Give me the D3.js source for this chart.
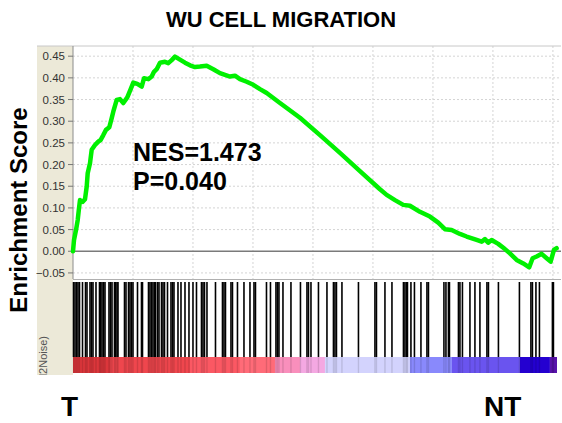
<!DOCTYPE html>
<html>
<head>
<meta charset="utf-8">
<script src="https://cdn.jsdelivr.net/npm/d3@7"></script>
<style>
  body { margin: 0; background: #fff; }
  svg text { font-family: "Liberation Sans", Arial, sans-serif; }
</style>
</head>
<body>
<div id="chart"></div>
<script>
/* ---- data ---- */
var listSize = 20170;

// running enrichment score : rank in the ordered list / score
var esRank = [0, 42, 125, 196, 250, 292, 404, 500, 571, 612, 708, 779, 917, 1054, 1154, 1263, 1375, 1513,
  1613, 1679, 1821, 1958, 2096, 2263, 2404, 2513, 2679, 2863, 2958, 3138, 3279, 3375, 3488, 3625, 3833,
  3971, 4113, 4250, 4458, 4667, 4875, 5083, 5292, 5571, 5846, 6125, 6333, 6542, 6750, 6958, 7238, 7513,
  7792, 8071, 8625, 9458, 10292, 11125, 11958, 12792, 13071, 13417, 13763, 14042, 14458, 14875, 15221,
  15500, 15779, 16125, 16404, 16821, 17029, 17167, 17304, 17446, 17721, 18000, 18208, 18488, 18763,
  19013, 19154, 19321, 19529, 19738, 19904, 20042, 20154];
var esValue = [0, 0.026, 0.049, 0.072, 0.099, 0.118, 0.114, 0.120, 0.149, 0.180, 0.203, 0.234, 0.245, 0.253,
  0.257, 0.268, 0.280, 0.286, 0.307, 0.322, 0.349, 0.351, 0.342, 0.355, 0.374, 0.389, 0.386, 0.380, 0.399,
  0.397, 0.403, 0.414, 0.420, 0.435, 0.437, 0.434, 0.441, 0.449, 0.442, 0.435, 0.429, 0.425, 0.426, 0.428,
  0.420, 0.411, 0.407, 0.403, 0.405, 0.397, 0.391, 0.384, 0.374, 0.365, 0.342, 0.308, 0.268, 0.227, 0.185,
  0.143, 0.130, 0.118, 0.107, 0.105, 0.091, 0.080, 0.066, 0.051, 0.049, 0.040, 0.034, 0.026, 0.022, 0.028,
  0.020, 0.026, 0.017, 0.005, -0.005, -0.020, -0.028, -0.037, -0.016, -0.012, -0.006, -0.016, -0.024,
  0.003, 0.007];

// positions of the gene set members in the ranked list
var hits = [21, 83, 146, 208, 271, 396, 521, 583, 708, 771, 833, 958, 1104, 1146, 1208, 1271, 1333, 1500,
  1563, 1625, 1729, 1771, 1833, 1875, 2146, 2208, 2313, 2375, 2438, 2500, 2688, 2854, 2896, 3146, 3208,
  3271, 3333, 3396, 3438, 3521, 3583, 3688, 3750, 3813, 3938, 4083, 4146, 4208, 4375, 4500, 4667, 4833,
  5000, 5146, 5354, 5417, 5479, 5583, 5938, 6229, 6292, 6354, 6583, 6646, 6854, 7125, 7375, 7542, 7604,
  8063, 8229, 8458, 8521, 8583, 8750, 9083, 9479, 9750, 9813, 9917, 10229, 10583, 10854, 10917, 10979,
  11208, 11896, 12583, 12646, 13000, 13292, 13771, 13833, 13896, 13938, 14083, 14229, 14500, 14750,
  14813, 15458, 15542, 15646, 15688, 16063, 16125, 16229, 16542, 16750, 16958, 17250, 17313, 17729,
  18604, 19083, 19146, 19292, 19438, 19979, 20021];

// ranked list metric colour band (start rank of each block / colour)
var bandStart = [0, 1542, 4875, 6958, 8417, 9458, 10500, 14042, 15792, 18625, 19875];
var bandColor = ["#dc363b", "#ef464d", "#fb5863", "#ff6b78", "#f98fbc", "#f4a8e2", "#d3d3fd",
  "#8989fc", "#6a54ef", "#2400d0", "#5812aa"];

var yTicks = [-0.05, 0, 0.05, 0.10, 0.15, 0.20, 0.25, 0.30, 0.35, 0.40, 0.45];
var xGrid = [2500, 5000, 7500, 10000, 12500, 15000, 17500, 20000];

var title = "WU CELL MIGRATION";
var nesLabel = "NES=1.473";
var pLabel = "P=0.040";

/* ---- layout ---- */
var W = 562, H = 423;
var svg = d3.select("#chart").append("svg").attr("width", W).attr("height", H);

var x = d3.scaleLinear().domain([0, listSize]).range([73, 557]);
var y = d3.scaleLinear().domain([-0.064, 0.4735]).range([279, 46]);
var plotRight = 561;
var hitTop = 282, hitBottom = 357, bandBottom = 373;

// beige strip behind the axis
svg.append("rect").attr("x", 37).attr("y", 46).attr("width", 36).attr("height", 329)
  .attr("fill", "#ece9d8");

// white plot area
svg.append("rect").attr("x", 73).attr("y", 46).attr("width", plotRight - 73).attr("height", 233)
  .attr("fill", "#fff");

// grid
svg.selectAll(".hgrid").data(yTicks.filter(function(d){ return d != 0; })).enter().append("line")
  .attr("x1", 73).attr("x2", plotRight)
  .attr("y1", function(d){ return y(d); }).attr("y2", function(d){ return y(d); })
  .attr("stroke", "#d4d4d4").attr("stroke-dasharray", "2,2");
svg.selectAll(".vgrid").data(xGrid).enter().append("line")
  .attr("x1", function(d){ return x(d); }).attr("x2", function(d){ return x(d); })
  .attr("y1", 46).attr("y2", 279)
  .attr("stroke", "#d4d4d4").attr("stroke-dasharray", "2,2");

// zero line
svg.append("line").attr("x1", 73).attr("x2", plotRight).attr("y1", y(0)).attr("y2", y(0))
  .attr("stroke", "#7a7a7a").attr("stroke-width", 1.3);

// frame
svg.append("line").attr("x1", 37).attr("x2", plotRight).attr("y1", 46).attr("y2", 46)
  .attr("stroke", "#c8c8c8");
svg.append("line").attr("x1", 73).attr("x2", plotRight).attr("y1", 279.5).attr("y2", 279.5)
  .attr("stroke", "#b0b0b0");
svg.append("line").attr("x1", 73).attr("x2", 73).attr("y1", 46).attr("y2", 279)
  .attr("stroke", "#8c8c8c");

// y axis ticks + labels
var fmt = d3.format(".2f");
svg.selectAll(".ytick").data(yTicks).enter().append("line")
  .attr("x1", 68).attr("x2", 73)
  .attr("y1", function(d){ return y(d); }).attr("y2", function(d){ return y(d); })
  .attr("stroke", "#777");
svg.selectAll(".ylab").data(yTicks).enter().append("text")
  .attr("x", 65).attr("y", function(d){ return y(d) + 4; })
  .attr("text-anchor", "end").attr("font-size", "11.5px").attr("fill", "#333")
  .text(function(d){ return fmt(d); });

// running enrichment score
var pts = esRank.map(function(r, i){ return [r, esValue[i]]; });
svg.append("path").datum(pts)
  .attr("d", d3.line().x(function(d){ return x(d[0]); }).y(function(d){ return y(d[1]); }))
  .attr("fill", "none").attr("stroke", "#00f000").attr("stroke-width", 4.5)
  .attr("stroke-linejoin", "round").attr("stroke-linecap", "round");

// colour band of the ranked list
svg.selectAll(".band").data(bandStart).enter().append("rect")
  .attr("x", function(d){ return x(d); })
  .attr("width", function(d, i){ return x(i < bandStart.length - 1 ? bandStart[i + 1] : listSize) - x(d); })
  .attr("y", hitBottom).attr("height", bandBottom - hitBottom)
  .attr("fill", function(d, i){ return bandColor[i]; });
svg.selectAll(".bandline").data(hits).enter().append("line")
  .attr("x1", function(d){ return x(d); }).attr("x2", function(d){ return x(d); })
  .attr("y1", hitBottom).attr("y2", bandBottom)
  .attr("stroke", "#000").attr("stroke-opacity", 0.12).attr("stroke-width", 1.4);

// hits
svg.selectAll(".hit").data(hits).enter().append("line")
  .attr("x1", function(d){ return x(d); }).attr("x2", function(d){ return x(d); })
  .attr("y1", hitTop).attr("y2", hitBottom)
  .attr("stroke", "#000").attr("stroke-width", 1.6);

// small clipped metric label in the beige strip (clip on a group so the
// clip rectangle stays in page coordinates)
svg.append("clipPath").attr("id", "beigeclip").append("rect")
  .attr("x", 37).attr("y", 300).attr("width", 36).attr("height", 75);
svg.append("g").attr("clip-path", "url(#beigeclip)")
  .append("text")
  .attr("transform", "translate(47,336) rotate(-90)")
  .attr("text-anchor", "end").attr("font-size", "11px").attr("fill", "#555")
  .text("(Signal2Noise)");

// labels
svg.append("text").attr("x", 281).attr("y", 27).attr("text-anchor", "middle")
  .attr("font-size", "22px").attr("font-weight", "bold").text(title);
svg.append("text").attr("transform", "translate(27,210) rotate(-90)").attr("text-anchor", "middle")
  .attr("font-size", "24px").attr("font-weight", "bold").text("Enrichment Score");
svg.append("text").attr("x", 133).attr("y", 161)
  .attr("font-size", "25px").attr("font-weight", "bold").text(nesLabel);
svg.append("text").attr("x", 133).attr("y", 190)
  .attr("font-size", "25px").attr("font-weight", "bold").text(pLabel);
svg.append("text").attr("x", 61).attr("y", 416)
  .attr("font-size", "28px").attr("font-weight", "bold").text("T");
svg.append("text").attr("x", 484).attr("y", 416)
  .attr("font-size", "28px").attr("font-weight", "bold").text("NT");
</script>
</body>
</html>
